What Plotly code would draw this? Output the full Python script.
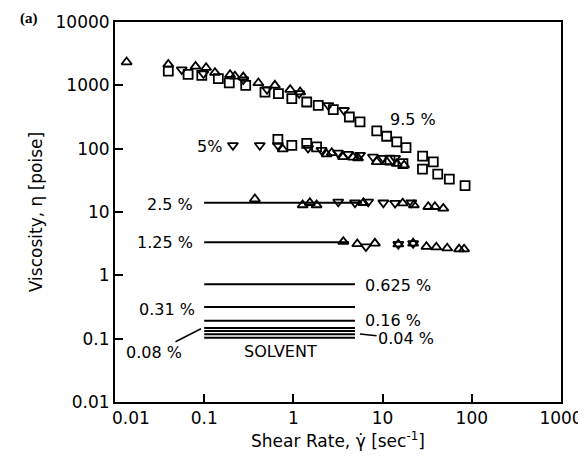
import math
import plotly.graph_objects as go

# ---------------- data ----------------
# open triangles (up)
tri_up_x = [0.0135, 0.0396, 0.080, 0.105, 0.132, 0.195, 0.221, 0.274, 0.405, 0.62, 0.92, 1.19,
            0.76, 2.36, 2.69, 3.6, 4.66, 5.3, 8.6, 11.1, 14.4, 17.4,
            0.37, 1.27, 1.53, 1.82, 6.1, 16.8, 22.4, 32.5, 38.6, 47.9,
            3.63, 5.2, 8.2, 15, 22, 31, 40, 53, 72, 82]
tri_up_y = [2330, 2140, 1990, 1900, 1585, 1470, 1390, 1350, 1090, 1000, 855, 784,
            98, 82, 86, 74, 73, 71, 62, 62, 58, 55,
            16, 12.9, 14, 12.9, 14, 13.8, 12.9, 12.1, 12.1, 11.4,
            3.4, 3.13, 3.2, 3.1, 3.2, 2.84, 2.78, 2.68, 2.59, 2.59]
# open triangles (down)
tri_dn_x = [0.056, 0.098, 0.274, 0.506, 1.16, 2.46, 3.69,
            0.21, 0.42, 0.67, 1.46, 2.07, 3.16, 4.1, 5.58, 7.8, 10.1, 13.8,
            3.18, 4.9, 6.9, 10.2, 13.8, 21,
            6.5, 15, 22]
tri_dn_y = [1770, 1530, 1230, 865, 748, 484, 404,
            113, 113, 113, 102, 95, 86, 82, 79, 74, 71, 71,
            14.5, 14, 14.5, 14, 13.8, 14,
            2.84, 3.1, 3.2]
# open squares
sq_x = [0.0396, 0.066, 0.094, 0.144, 0.191, 0.292, 0.48, 0.68, 0.96, 1.41, 1.9, 2.8,
        4.24, 5.58, 8.6, 11.1, 14.4, 18.3, 28.1, 37, 28, 41.5, 56, 84,
        0.67, 0.96, 1.41, 1.82, 12.1, 16.9]
sq_y = [1680, 1490, 1440, 1275, 1090, 1000, 784, 740, 617, 546, 484, 414,
        316, 264, 191, 157, 128, 104, 76, 62, 47.5, 39.6, 33, 26,
        140, 113, 121, 107, 66, 58]

# horizontal (Newtonian) viscosity levels
level_visc = [14.0, 3.33, 0.726, 0.315, 0.192, 0.148, 0.132, 0.117, 0.103]
level_x_start = [0.1, 0.1, 0.1, 0.1, 0.1, 0.1, 0.1, 0.1, 0.1]
level_x_end = [5.9, 4.2, 4.9, 4.9, 4.9, 4.9, 4.9, 4.9, 4.9]

x_tickvals = [0.01, 0.1, 1, 10, 100, 1000]
x_ticktext = ["", "0.1", "1", "10", "100", "1000"]
y_tickvals = [0.01, 0.1, 1, 10, 100, 1000, 10000]
y_ticktext = ["0.01", "0.1", "1", "10", "100", "1000", "10000"]

# --------------- figure ----------------
INK = "#000000"
FONT = "DejaVu Sans"

# the page body adds an 8px margin; size the figure to fit inside the window
W, H = 578, 443
ML, MR, MT, MB = 107, 25, 14, 48.5

fig = go.Figure()

for xs, xe, v in zip(level_x_start, level_x_end, level_visc):
    fig.add_trace(go.Scatter(x=[xs, xe], y=[v, v], mode="lines",
                             line=dict(color=INK, width=2), showlegend=False,
                             hoverinfo="skip"))

mk = dict(color=INK, size=9, line=dict(color=INK, width=1.8))
fig.add_trace(go.Scatter(x=sq_x, y=sq_y, mode="markers",
                         marker=dict(symbol="square-open", **mk), showlegend=False))
fig.add_trace(go.Scatter(x=tri_up_x, y=tri_up_y, mode="markers",
                         marker=dict(symbol="triangle-up-open", **mk), showlegend=False))
fig.add_trace(go.Scatter(x=tri_dn_x, y=tri_dn_y, mode="markers",
                         marker=dict(symbol="triangle-down-open", **mk), showlegend=False))

lab_font = dict(family=FONT, size=16, color=INK)


def lab(text, x, y, xanchor="center"):
    fig.add_annotation(text=text, x=x, y=y, xref="x", yref="y", xanchor=xanchor,
                       yanchor="middle", showarrow=False, font=lab_font)


lab("9.5 %", 1.061, 2.465, "left")
lab("5%", -0.78, 2.03, "right")
lab("2.5 %", -1.103, 1.12, "right")
lab("1.25 %", -1.103, 0.512, "right")
lab("0.625 %", 0.78, -0.165, "left")
lab("0.31 %", -1.081, -0.532, "right")
lab("0.16 %", 0.78, -0.712, "left")
lab("SOLVENT", -0.145, -1.2, "center")

fig.add_annotation(text="0.08 %", x=math.log10(0.092), y=math.log10(0.1436),
                   xref="x", yref="y", showarrow=True, arrowhead=0, arrowwidth=1.5,
                   arrowcolor=INK, ax=-47, ay=24, font=lab_font, standoff=0)
fig.add_annotation(text="0.04 %", x=math.log10(5.58), y=math.log10(0.1186),
                   xref="x", yref="y", showarrow=True, arrowhead=0, arrowwidth=1.5,
                   arrowcolor=INK, ax=46, ay=5, font=lab_font, standoff=0)

TICK_FONT = dict(family=FONT, size=17, color=INK)

# first x tick label, nudged right of its tick (as in the original) to clear the y label
fig.add_annotation(text="0.01", x=math.log10(x_tickvals[0]), y=0, xref="x", yref="paper",
                   xanchor="left", yanchor="top", xshift=-5, yshift=-4,
                   showarrow=False, font=TICK_FONT)

pw, ph = W - ML - MR, H - MT - MB
fig.add_annotation(text="<b>(a)</b>", xref="paper", yref="paper",
                   x=(21 - ML) / pw, y=(H - MB) / ph,
                   xanchor="center", yanchor="top", showarrow=False,
                   font=dict(family="Liberation Serif", size=15, color=INK))

axis_common = dict(type="log", showgrid=False, zeroline=False, showline=True,
                   linecolor=INK, linewidth=2, mirror=True, ticks="inside",
                   ticklen=8, tickwidth=2, tickcolor=INK,
                   tickfont=TICK_FONT,
                   title_font=dict(family=FONT, size=17, color=INK))

fig.update_xaxes(range=[-2, 3], tickvals=x_tickvals, ticktext=x_ticktext,
                 title_text="Shear Rate, \u03b3\u0307 [sec<sup>-1</sup>]",
                 title_standoff=8, **axis_common)
fig.update_yaxes(range=[-2, 4], tickvals=y_tickvals, ticktext=y_ticktext,
                 title_text="Viscosity, \u03b7 [poise]", title_standoff=9,
                 **axis_common)

fig.update_layout(width=W, height=H, paper_bgcolor="white", plot_bgcolor="white",
                  margin=dict(l=ML, r=MR, t=MT, b=MB, autoexpand=False),
                  showlegend=False)

fig.write_html("out.html")
